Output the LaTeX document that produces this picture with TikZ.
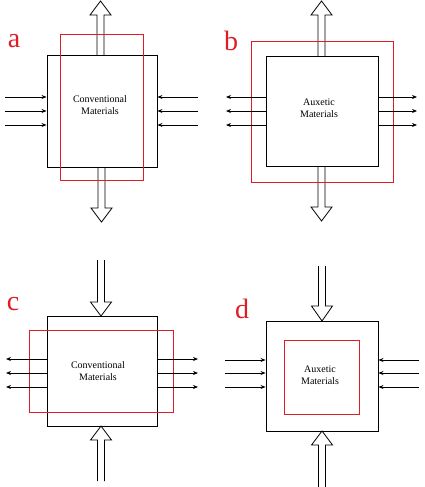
\documentclass[tikz,border=0pt]{standalone}
\usepackage{fontspec}
\setmainfont{Liberation Serif}
\usetikzlibrary{arrows.meta}
\definecolor{labelred}{RGB}{222,30,38}
% hollow load arrow: x, tail y, head base y, tip y
\newcommand{\loadarrow}[4]{
\draw[line width=0.8pt, fill=white] (#1-3.5,#2)--(#1-3.5,#3)--(#1-10.5,#3)--(#1,#4)--(#1+10.5,#3)--(#1+3.5,#3)--(#1+3.5,#2);
}
\tikzset{
material/.style={draw, line width=0.9pt, inner sep=0pt},
strain/.style={draw=labelred, line width=0.9pt},
pull/.style={line width=0.8pt, -{Stealth[length=5pt,width=4pt]}},
tag/.style={text=labelred, font=\fontsize{28}{28}\selectfont},
matname/.style={align=center, font=\fontsize{10}{11.5}\selectfont}
}
\begin{document}
\begin{tikzpicture}[x=1pt, y=-1pt]
\useasboundingbox (0,0) rectangle (424,487);

% a
\loadarrow{100.5}{55}{15}{1}
\loadarrow{101.5}{167}{208}{222}
\node[material, minimum width=110, minimum height=112] (boxa) at (102,111) {};
\draw[strain] (60,34) rectangle (143,180);
\node[matname] (texta) at (100,105) {Conventional\\Materials};
\node[tag] (taga) at (14,41) {a};
\foreach \y in {97,111,125}{
\draw[pull] (5,\y)--(boxa.west |- 0,\y);
\draw[pull] (198,\y)--(boxa.east |- 0,\y);
}

% b
\loadarrow{321.5}{56}{15}{1}
\loadarrow{321.5}{166}{207}{221}
\node[material, minimum width=112, minimum height=110] (boxb) at (322,111) {};
\draw[strain] (251,41) rectangle (393,182);
\node[matname] (textb) at (319,108) {Auxetic\\Materials};
\node[tag] (tagb) at (231,41) {b};
\foreach \y in {97,111,125}{
\draw[pull] (boxb.west |- 0,\y)--(226,\y);
\draw[pull] (boxb.east |- 0,\y)--(417,\y);
}

% c
\loadarrow{101}{260}{302}{316}
\loadarrow{101}{481}{440}{426}
\node[material, minimum width=110, minimum height=110] (boxc) at (102,371) {};
\draw[strain] (29,330) rectangle (173,412);
\node[matname] (textc) at (98,371) {Conventional\\Materials};
\node[tag] (tagc) at (13,304) {c};
\foreach \y in {359,373,387}{
\draw[pull] (boxc.west |- 0,\y)--(6,\y);
\draw[pull] (boxc.east |- 0,\y)--(198,\y);
}

% d
\loadarrow{322}{266}{306}{321}
\loadarrow{322}{487}{445}{431}
\node[material, minimum width=112, minimum height=110] (boxd) at (322,376) {};
\draw[strain] (284,340) rectangle (359,414);
\node[matname] (textd) at (320,375) {Auxetic\\Materials};
\node[tag] (tagd) at (242,309) {d};
\foreach \y in {360,373,387}{
\draw[pull] (225,\y)--(boxd.west |- 0,\y);
\draw[pull] (419,\y)--(boxd.east |- 0,\y);
}
\end{tikzpicture}
\end{document}
